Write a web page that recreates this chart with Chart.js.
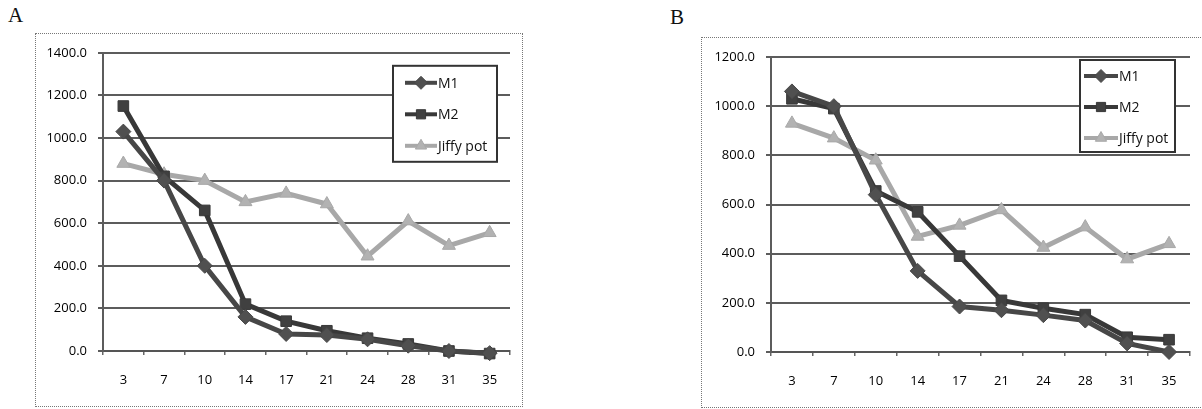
<!DOCTYPE html>
<html>
<head>
<meta charset="utf-8">
<script src="https://cdn.jsdelivr.net/npm/chart.js@4.4.0/dist/chart.umd.min.js"></script>
<style>
  body{margin:0;background:#fff;width:1202px;height:409px;position:relative;overflow:hidden}
  .tag{position:absolute;font-family:"Liberation Serif","DejaVu Serif",serif;font-size:21px;color:#111}
  .frame{position:absolute;border:1px dotted #777;box-sizing:border-box}
  canvas{display:block}
</style>
</head>
<body>
<div class="tag" style="left:8px;top:3px">A</div>
<div class="tag" style="left:670px;top:5px">B</div>
<div class="frame" id="boxA" style="left:35px;top:33px;width:488px;height:374px"><canvas id="chartA"></canvas></div>
<div class="frame" id="boxB" style="left:701px;top:37px;width:502px;height:371px"><canvas id="chartB"></canvas></div>
<script>
// days after sowing
const days = ['3','7','10','14','17','21','24','28','31','35'];

// panel A
const a_m1 = [1030, 800, 400, 160, 80, 75, 55, 25, 0, -10];
const a_m2 = [1150, 820, 660, 220, 140, 95, 60, 33, 0, -12];
const a_jiffy = [880, 830, 800, 700, 740, 690, 445, 610, 495, 555];
const a_yMax = 1400;

// panel B
const b_m1 = [1060, 1000, 640, 330, 185, 170, 150, 128, 35, 0];
const b_m2 = [1030, 990, 655, 570, 390, 210, 178, 152, 60, 50];
const b_jiffy = [930, 870, 780, 470, 515, 578, 425, 508, 378, 440];
const b_yMax = 1200;

const yStep = 200;
const FONT = '"Open Sans","Noto Sans",sans-serif';

const boxLegend = {
  id: 'boxLegend',
  afterDraw(chart, args, o){
    const ctx = chart.ctx, ca = chart.chartArea;
    const x0 = ca.right - o.right - o.width, y0 = ca.top + o.top;
    ctx.save();
    ctx.fillStyle = '#fff';
    ctx.fillRect(x0, y0, o.width, o.height);
    ctx.lineWidth = 2; ctx.strokeStyle = '#333';
    ctx.strokeRect(x0, y0, o.width, o.height);
    chart.data.datasets.forEach((ds, i) => {
      const y = y0 + o.first + i*o.gap;
      ctx.strokeStyle = ds.borderColor; ctx.lineWidth = ds.borderWidth - 1;
      ctx.beginPath();
      ctx.moveTo(x0 + o.lineStart, y); ctx.lineTo(x0 + o.lineStart + o.lineLen, y);
      ctx.stroke();
      ctx.fillStyle = ds.pointBackgroundColor; ctx.strokeStyle = ds.pointBorderColor; ctx.lineWidth = 1;
      Chart.helpers.drawPoint(ctx, {pointStyle: ds.pointStyle, radius: ds.pointRadius - 1, borderWidth: 1, rotation: 0},
        x0 + o.lineStart + o.lineLen/2, y);
      ctx.fillStyle = '#111';
      ctx.font = '14px ' + FONT;
      ctx.textBaseline = 'middle';
      ctx.fillText(ds.label, x0 + o.lineStart + o.lineLen + 1, y + 1);
    });
    ctx.restore();
  }
};

function series(label, data, color, fill, style, r){
  return {label, data, borderColor: color, borderWidth: 5, pointStyle: style, pointRadius: r,
    pointBackgroundColor: fill, pointBorderColor: color, pointBorderWidth: 1, tension: 0, clip: false};
}

function makeChart(id, m1, m2, jiffy, yMax, dims, legend){
  return new Chart(document.getElementById(id), {
    type: 'line',
    data: {labels: days, datasets: [
      series('M1', m1, '#474747', '#505050', 'rectRot', 7.5),
      series('M2', m2, '#383838', '#404040', 'rect', 7.5),
      series('Jiffy pot', jiffy, '#a8a8a8', '#b2b2b2', 'triangle', 7.5)
    ]},
    options: {
      responsive: true, maintainAspectRatio: false, animation: false,
      layout: {padding: {top: dims.top, right: dims.right, left: 0, bottom: 0}},
      plugins: {legend: {display: false}, tooltip: {enabled: false}, boxLegend: legend},
      scales: {
        x: {
          offset: true,
          grid: {offset: true, drawOnChartArea: false, drawTicks: true, tickLength: 4, color: '#666', lineWidth: 1.5},
          border: {display: true, color: '#555', width: 2},
          ticks: {color: '#000', font: {family: FONT, size: 13}, padding: 17, maxRotation: 0},
          afterFit: s => { s.height = dims.xh; }
        },
        y: {
          min: 0, max: yMax,
          grid: {color: '#5c5c5c', lineWidth: 2, tickLength: 5},
          border: {display: true, color: '#5c5c5c', width: 2},
          ticks: {stepSize: yStep, color: '#000', font: {family: FONT, size: 13}, padding: 11,
            callback: v => Number(v).toFixed(1)},
          afterFit: s => { s.width = dims.yw; }
        }
      }
    },
    plugins: [boxLegend]
  });
}

makeChart('chartA', a_m1, a_m2, a_jiffy, a_yMax,
  {top: 18, right: 12, xh: 55, yw: 67},
  {right: 13, width: 104, top: 13, height: 96, first: 17, gap: 31.5, lineStart: 12, lineLen: 32});
makeChart('chartB', b_m1, b_m2, b_jiffy, b_yMax,
  {top: 19, right: 12, xh: 55, yw: 69},
  {right: 15, width: 95, top: 3, height: 92, first: 16, gap: 31, lineStart: 4, lineLen: 34});
</script>
</body>
</html>
